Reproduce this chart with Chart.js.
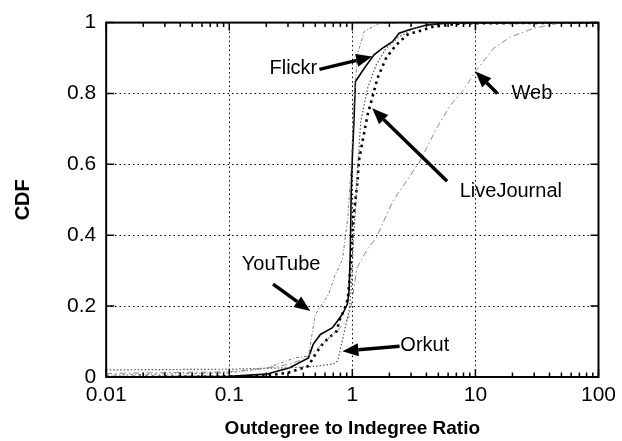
<!DOCTYPE html>
<html>
<head>
<meta charset="utf-8">
<script src="https://cdn.jsdelivr.net/npm/chart.js@4"></script>
<style>
  html, body { margin: 0; padding: 0; background: #fff; }
  #wrap { width: 622px; height: 441px; }
</style>
</head>
<body>
<div id="wrap"><canvas id="chart"></canvas></div>
<script>
// values (x = outdegree/indegree ratio, y = CDF)
const flickrX = [0.01, 0.1, 0.2, 0.31, 0.44, 0.48, 0.55, 0.69, 0.83, 0.91, 0.94, 0.96, 0.98, 1.0, 1.03, 1.06, 1.25, 1.5, 1.76, 2.12, 2.4, 2.9, 4, 6, 100];
const flickrY = [0, 0.002, 0.008, 0.026, 0.054, 0.092, 0.12, 0.139, 0.177, 0.205, 0.242, 0.336, 0.524, 0.62, 0.72, 0.834, 0.871, 0.909, 0.928, 0.946, 0.97, 0.98, 0.993, 0.999, 1];

const ljX = [0.01, 0.1, 0.2, 0.3, 0.44, 0.5, 0.57, 0.64, 0.75, 0.78, 0.85, 0.92, 0.97, 1.02, 1.1, 1.13, 1.33, 1.45, 1.6, 1.88, 2.27, 2.8, 4.5, 8, 100];
const ljY = [0, 0.001, 0.004, 0.012, 0.031, 0.064, 0.092, 0.11, 0.13, 0.158, 0.186, 0.22, 0.32, 0.45, 0.55, 0.61, 0.74, 0.787, 0.843, 0.9, 0.937, 0.966, 0.988, 0.998, 1];

const orkutX = [0.01, 0.1, 0.3, 0.5, 0.7, 0.76, 0.8, 0.85, 0.94, 0.98, 1.02, 1.07, 1.1, 1.17, 1.33, 1.56, 1.88, 2.4, 3.2, 5, 100];
const orkutY = [0.02, 0.022, 0.026, 0.03, 0.037, 0.045, 0.08, 0.12, 0.186, 0.25, 0.38, 0.496, 0.58, 0.72, 0.815, 0.88, 0.928, 0.96, 0.985, 0.998, 1];

const youtubeX = [0.01, 0.1, 0.2, 0.25, 0.34, 0.44, 0.47, 0.5, 0.64, 0.73, 0.83, 0.92, 0.98, 1.01, 1.03, 1.1, 1.25, 1.66, 2.5, 100];
const youtubeY = [0.005, 0.012, 0.025, 0.037, 0.054, 0.059, 0.12, 0.176, 0.233, 0.29, 0.33, 0.45, 0.6, 0.7, 0.77, 0.91, 0.975, 0.998, 1, 1];

const webX = [0.01, 0.1, 0.2, 0.3, 0.4, 0.5, 0.6, 0.75, 0.85, 0.94, 1.0, 1.09, 1.32, 1.56, 2.13, 3.53, 4.84, 6.2, 8.0, 10, 14.1, 19.4, 30, 47, 100];
const webY = [0.01, 0.015, 0.025, 0.035, 0.05, 0.075, 0.1, 0.13, 0.15, 0.17, 0.22, 0.308, 0.36, 0.392, 0.496, 0.608, 0.702, 0.765, 0.81, 0.862, 0.928, 0.96, 0.984, 0.998, 1];

// x ticks: decades get labels, the rest are minor marks
const xDecades = [0.01, 0.1, 1, 10, 100];
const yTicks = [0, 0.2, 0.4, 0.6, 0.8, 1];

// callouts: label, where the text sits, arrow tail and arrow head (data coords)
const notes = [
  { text: "Flickr",      tx: 0.332, ty: 0.87,  fx: 0.54, fy: 0.868, hx: 1.45, hy: 0.904 },
  { text: "LiveJournal", tx: 19.4,  ty: 0.524, fx: 5.89, fy: 0.552, hx: 1.45, hy: 0.758 },
  { text: "Web",         tx: 28.8,  ty: 0.80,  fx: 15.1, fy: 0.80,  hx: 10,   hy: 0.862 },
  { text: "YouTube",     tx: 0.264, ty: 0.318, fx: 0.227, fy: 0.262, hx: 0.455, hy: 0.186 },
  { text: "Orkut",       tx: 3.88,  ty: 0.09,  fx: 2.42, fy: 0.087, hx: 0.83, hy: 0.073 }
];

const pts = (xs, ys) => xs.map((x, i) => ({ x, y: ys[i] }));

function xTickList() {
  const out = [];
  for (let e = -2; e < 2; e++) {
    for (let m = 1; m < 10; m++) out.push(m * Math.pow(10, e));
  }
  out.push(100);
  return out;
}

const isDecade = v => Math.abs(Math.log10(v) - Math.round(Math.log10(v))) < 1e-9;

const frame = {
  id: "frame",
  afterDatasetsDraw(chart) {
    const { ctx, chartArea: a, scales: { x, y } } = chart;
    ctx.save();
    ctx.strokeStyle = "#000";
    ctx.lineWidth = 1.5;
    // inward ticks
    ctx.beginPath();
    x.ticks.forEach(t => {
      const px = x.getPixelForValue(t.value);
      const len = isDecade(t.value) ? 8 : 4.5;
      ctx.moveTo(px, a.bottom); ctx.lineTo(px, a.bottom - len);
      ctx.moveTo(px, a.top); ctx.lineTo(px, a.top + len);
    });
    y.ticks.forEach(t => {
      const py = y.getPixelForValue(t.value);
      ctx.moveTo(a.left, py); ctx.lineTo(a.left + 8, py);
      ctx.moveTo(a.right, py); ctx.lineTo(a.right - 8, py);
    });
    ctx.stroke();
    ctx.lineWidth = 2;
    ctx.strokeRect(a.left, a.top, a.right - a.left, a.bottom - a.top);

    // callouts
    ctx.font = "20px 'Liberation Sans', Arial, sans-serif";
    ctx.fillStyle = "#000";
    ctx.textAlign = "center";
    ctx.textBaseline = "middle";
    notes.forEach(n => {
      ctx.fillText(n.text, x.getPixelForValue(n.tx), y.getPixelForValue(n.ty));
      const x0 = x.getPixelForValue(n.fx), y0 = y.getPixelForValue(n.fy);
      const x1 = x.getPixelForValue(n.hx), y1 = y.getPixelForValue(n.hy);
      const ang = Math.atan2(y1 - y0, x1 - x0);
      const hl = 16, hw = 6.5;
      const bx = x1 - hl * Math.cos(ang), by = y1 - hl * Math.sin(ang);
      ctx.lineWidth = 3.5;
      ctx.beginPath();
      ctx.moveTo(x0, y0); ctx.lineTo(bx, by);
      ctx.stroke();
      ctx.beginPath();
      ctx.moveTo(x1, y1);
      ctx.lineTo(bx - hw * Math.sin(ang), by + hw * Math.cos(ang));
      ctx.lineTo(bx + hw * Math.sin(ang), by - hw * Math.cos(ang));
      ctx.closePath();
      ctx.fill();
    });
    ctx.restore();
  }
};

const tickFont = { family: "'Liberation Sans', Arial, sans-serif", size: 21 };
const titleFont = { family: "'Liberation Sans', Arial, sans-serif", size: 19, weight: "bold" };

new Chart(document.getElementById("chart"), {
  type: "line",
  data: {
    datasets: [
      { label: "Web", data: pts(webX, webY), borderColor: "#8a8a8a", borderWidth: 1, borderDash: [6, 3, 1.5, 3] },
      { label: "YouTube", data: pts(youtubeX, youtubeY), borderColor: "#7a7a7a", borderWidth: 1, borderDash: [3, 2, 1, 2] },
      { label: "Orkut", data: pts(orkutX, orkutY), borderColor: "#555", borderWidth: 1.2, borderDash: [1.5, 2] },
      { label: "LiveJournal", data: pts(ljX, ljY), borderColor: "#000", borderWidth: 2.6, borderDash: [2.5, 4] },
      { label: "Flickr", data: pts(flickrX, flickrY), borderColor: "#000", borderWidth: 1.6 }
    ]
  },
  options: {
    responsive: true,
    maintainAspectRatio: false,
    animation: false,
    layout: { padding: { top: 12, right: 8, left: 11, bottom: 1 } },
    elements: { point: { radius: 0 }, line: { tension: 0 } },
    plugins: { legend: { display: false }, tooltip: { enabled: false } },
    scales: {
      x: {
        type: "logarithmic",
        min: 0.01,
        max: 100,
        afterBuildTicks: s => { s.ticks = xTickList().map(v => ({ value: v })); },
        ticks: {
          autoSkip: false,
          maxRotation: 0,
          color: "#000",
          font: tickFont,
          padding: 6,
          callback: v => xDecades.includes(v) ? String(v) : ""
        },
        grid: {
          drawTicks: false,
          lineWidth: 1,
          color: c => (c.tick && [0.1, 1, 10].includes(c.tick.value)) ? "#000" : "rgba(0,0,0,0)"
        },
        border: { display: false, dash: [1.5, 3] },
        title: { display: true, text: "Outdegree to Indegree Ratio", color: "#000", font: titleFont, padding: { top: 3, bottom: 0 } }
      },
      y: {
        min: 0,
        max: 1,
        afterBuildTicks: s => { s.ticks = yTicks.map(v => ({ value: v })); },
        ticks: {
          color: "#000",
          font: tickFont,
          padding: 10,
          callback: v => (v === 0 || v === 1) ? String(v) : v.toFixed(1)
        },
        grid: {
          drawTicks: false,
          lineWidth: 1,
          color: c => (c.tick && c.tick.value > 0 && c.tick.value < 1) ? "#000" : "rgba(0,0,0,0)"
        },
        border: { display: false, dash: [1.5, 3] },
        title: { display: true, text: "CDF", color: "#000", font: { ...titleFont, size: 20 }, padding: { top: 0, bottom: 22 } }
      }
    }
  },
  plugins: [frame]
});
</script>
</body>
</html>
